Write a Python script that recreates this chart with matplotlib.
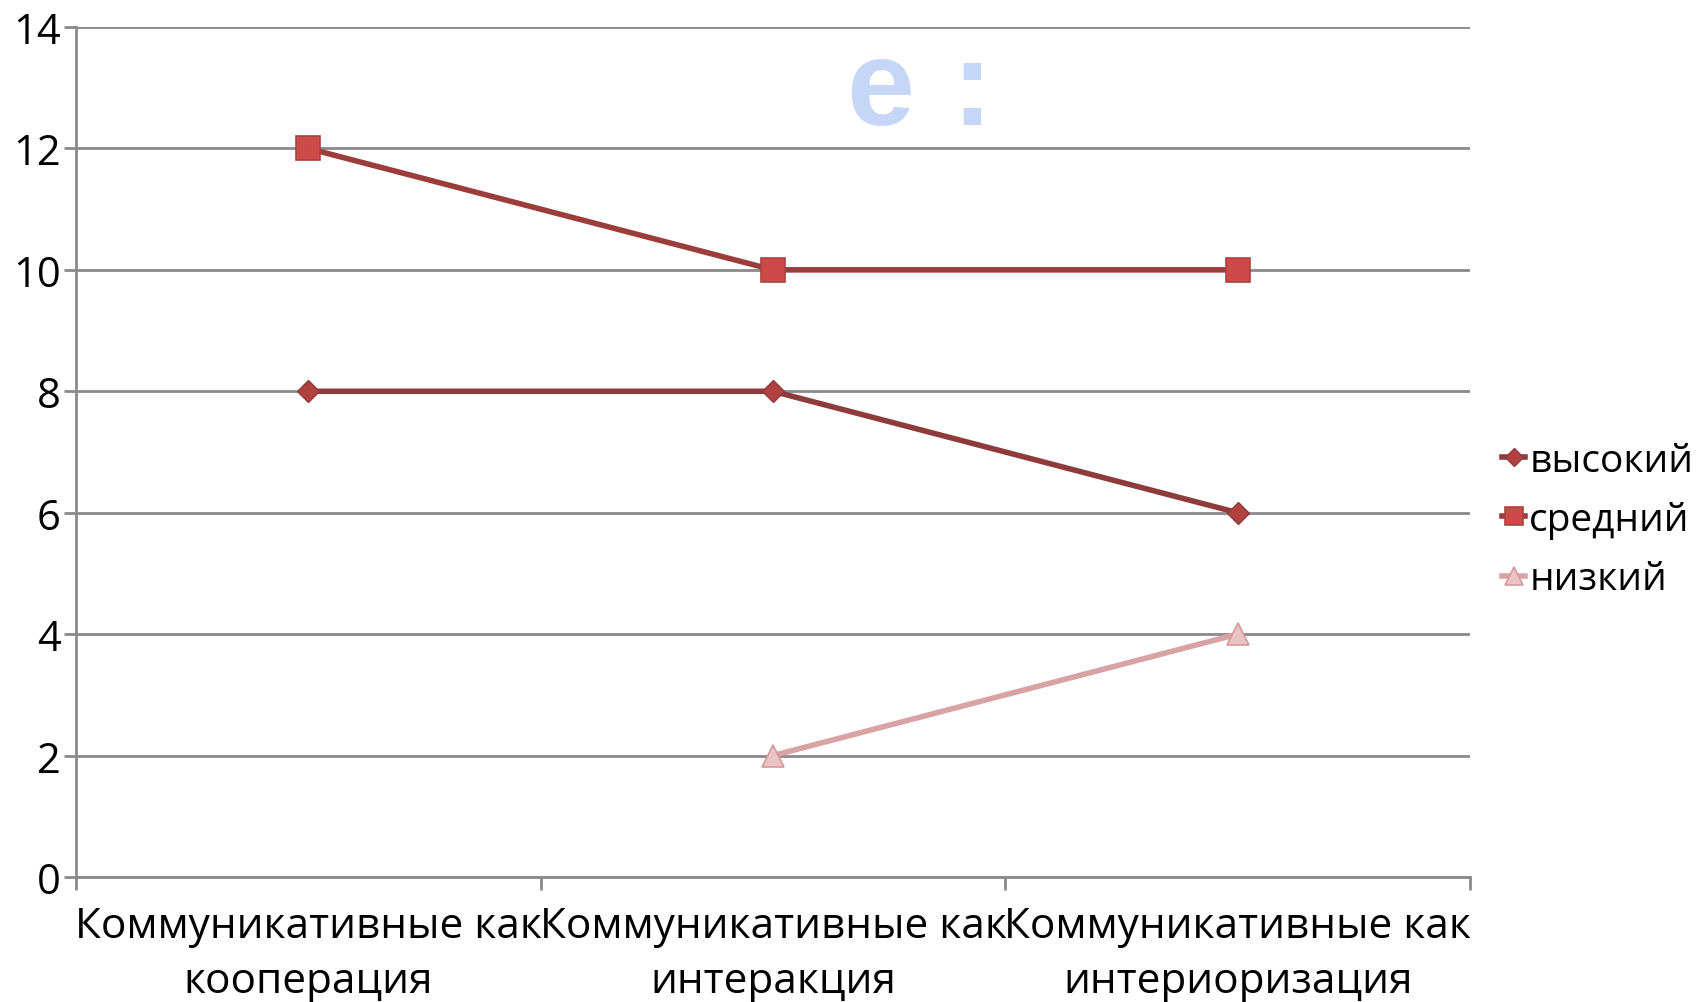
import matplotlib
matplotlib.use("Agg")
import matplotlib.pyplot as plt
import numpy as np

categories = ["Коммуникативные как\nкооперация",
              "Коммуникативные как\nинтеракция",
              "Коммуникативные как\nинтериоризация"]
vysokiy = [8, 8, 6]
sredniy = [12, 10, 10]
nizkiy = [np.nan, 2, 4]
series_names = ["высокий", "средний", "низкий"]
y_ticks = [0, 2, 4, 6, 8, 10, 12, 14]

plt.rcParams['font.family'] = ['Open Sans', 'DejaVu Sans']

W, H = 1707, 1003
fig = plt.figure(figsize=(W / 100, H / 100), dpi=100)
ax = fig.add_axes([76 / W, 1 - 878 / H, (1470 - 76) / W, (878 - 28) / H])

x = np.arange(len(categories))
ax.plot(x, vysokiy, color="#8E3B3B", lw=4, marker="D", ms=11,
        mfc="#B0413E", mec="#8E3B3B", mew=1, label=series_names[0], zorder=3)
ax.plot(x, sredniy, color="#9A3D3B", lw=4, marker="s", ms=17,
        mfc="#CC4A47", mec="#A94442", mew=1.2, label=series_names[1], zorder=3)
ax.plot(x, nizkiy, color="#D9A3A5", lw=4, marker="^", ms=16,
        mfc="#EBC3C4", mec="#D49A9C", mew=1.2, label=series_names[2], zorder=3)

ax.set_xlim(-0.5, len(categories) - 0.5)
ax.set_ylim(0, 14)
ax.set_yticks(y_ticks)
ax.set_yticklabels([str(v) for v in y_ticks], fontsize=30)
ax.yaxis.grid(True, color="#8A8A8A", lw=2)
ax.set_axisbelow(True)

ax.set_xticks(x)
ax.set_xticklabels(categories, fontsize=30.5, linespacing=1.4)
ax.set_xticks(np.arange(-0.5, len(categories)), minor=True)
ax.tick_params(axis="x", which="major", length=0, pad=20)
ax.tick_params(axis="x", which="minor", length=9, width=2, color="#8A8A8A")
ax.tick_params(axis="y", length=9, width=2, color="#8A8A8A", pad=2)

for s in ["top", "right"]:
    ax.spines[s].set_visible(False)
for s in ["left", "bottom"]:
    ax.spines[s].set_color("#8A8A8A")
    ax.spines[s].set_linewidth(2)

fig.text(880 / W, 1 - 93 / H, "e", color="#C5D6F7", fontsize=88,
         fontweight="bold", ha="center", va="center",
         family=["Liberation Sans", "DejaVu Sans"])
fig.text(972 / W, 1 - 93 / H, ":", color="#C5D6F7", fontsize=88,
         fontweight="bold", ha="center", va="center",
         family=["Liberation Sans", "DejaVu Sans"])

leg = ax.legend(loc="center left", bbox_to_anchor=(1502 / W, 1 - 521 / H),
                bbox_transform=fig.transFigure, frameon=False, fontsize=28,
                handlelength=0.6, handletextpad=0.1, labelspacing=0.55,
                markerscale=0.8, borderaxespad=0, borderpad=0)

fig.savefig("out.png", dpi=100, facecolor="white")
